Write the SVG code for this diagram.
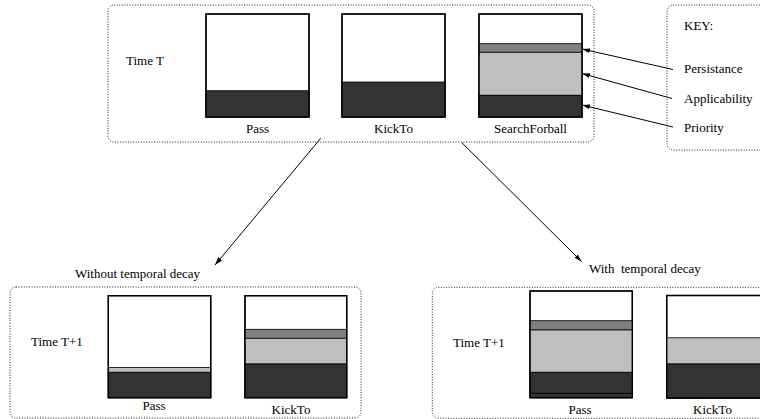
<svg xmlns="http://www.w3.org/2000/svg" width="760" height="419" viewBox="0 0 760 419">
<style>
text{font-family:"Liberation Serif","Times New Roman",serif;font-size:13px;fill:#000}
.frame{fill:none;stroke:#222;stroke-width:1;stroke-dasharray:1 1.6}
.box{fill:#fff;stroke:#000;stroke-width:1.3}
.dk{fill:#333333;stroke:#000;stroke-width:0.8}
.md{fill:#808080;stroke:#000;stroke-width:0.8}
.lt{fill:#bfbfbf;stroke:#000;stroke-width:0.8}
.ln{stroke:#000;stroke-width:1;fill:none}
.mid{text-anchor:middle}
</style>
<defs>
<marker id="ah" viewBox="0 0 10 6" refX="10" refY="3" markerWidth="8" markerHeight="5" markerUnits="userSpaceOnUse" orient="auto">
<path d="M0,0 L10,3 L0,6 z" fill="#000"/>
</marker>
</defs>

<g id="timeT">
<rect class="frame" x="108" y="5" width="486" height="137" rx="6"/>
<text x="126" y="65">Time T</text>
</g>

<g id="passT">
<rect class="box" x="206" y="14" width="103" height="103"/>
<rect class="dk" x="206" y="90.7" width="103" height="26.3"/>
<rect class="box" x="206" y="14" width="103" height="103" fill="none" style="fill:none"/>
<text class="mid" x="257.5" y="133">Pass</text>
</g>

<g id="kicktoT">
<rect class="box" x="342" y="14" width="103" height="103"/>
<rect class="dk" x="342" y="82" width="103" height="35"/>
<rect class="box" x="342" y="14" width="103" height="103" style="fill:none"/>
<text class="mid" x="393.5" y="133">KickTo</text>
</g>

<g id="searchT">
<rect class="box" x="479" y="14" width="103" height="103"/>
<rect class="md" x="479" y="43.7" width="103" height="8.6"/>
<rect class="lt" x="479" y="52.3" width="103" height="43"/>
<rect class="dk" x="479" y="95.3" width="103" height="21.7"/>
<rect class="box" x="479" y="14" width="103" height="103" style="fill:none"/>
<text class="mid" x="530.5" y="133">SearchForball</text>
</g>

<g id="key">
<rect class="frame" x="667" y="5" width="110" height="145" rx="6"/>
<text x="684" y="30">KEY:</text>
<text x="684" y="73">Persistance</text>
<text x="684" y="103">Applicability</text>
<text x="684" y="132">Priority</text>
</g>

<g id="without">
<text x="75" y="278">Without temporal decay</text>
<rect class="frame" x="10" y="287" width="351" height="131" rx="6"/>
<text x="31" y="346">Time T+1</text>
<rect class="box" x="108.3" y="295.7" width="102.4" height="102"/>
<rect class="lt" x="108.3" y="367.5" width="102.4" height="4.8"/>
<rect class="dk" x="108.3" y="372.3" width="102.4" height="25.4"/>
<rect class="box" x="108.3" y="295.7" width="102.4" height="102" style="fill:none"/>
<text class="mid" x="154" y="410">Pass</text>
<rect class="box" x="245" y="295.7" width="101.7" height="102"/>
<rect class="md" x="245" y="329.3" width="101.7" height="9"/>
<rect class="lt" x="245" y="338.3" width="101.7" height="25.7"/>
<rect class="dk" x="245" y="364" width="101.7" height="33.7"/>
<rect class="box" x="245" y="295.7" width="101.7" height="102" style="fill:none"/>
<text class="mid" x="291" y="414">KickTo</text>
</g>

<g id="with">
<text x="589" y="273" xml:space="preserve">With  temporal decay</text>
<rect class="frame" x="432.3" y="287.3" width="340" height="131" rx="6"/>
<text x="453" y="346.5">Time T+1</text>
<rect class="box" x="530" y="291" width="102.3" height="106.7"/>
<rect class="md" x="530" y="320.7" width="102.3" height="9.3"/>
<rect class="lt" x="530" y="330" width="102.3" height="42.3"/>
<rect class="dk" x="530" y="372.3" width="102.3" height="25.4"/>
<line class="ln" x1="530" y1="393.3" x2="632.3" y2="393.3"/>
<rect class="box" x="530" y="291" width="102.3" height="106.7" style="fill:none"/>
<text class="mid" x="580" y="414">Pass</text>
<rect class="box" x="666.7" y="295.5" width="102.3" height="102.5"/>
<rect class="lt" x="666.7" y="337.8" width="102.3" height="26.2"/>
<rect class="dk" x="666.7" y="364" width="102.3" height="34"/>
<rect class="box" x="666.7" y="295.5" width="102.3" height="102.5" style="fill:none"/>
<text class="mid" x="712.5" y="413.5">KickTo</text>
</g>

<g id="connectors">
<line class="ln" x1="673" y1="69.5" x2="582" y2="49" marker-end="url(#ah)"/>
<line class="ln" x1="672" y1="98.5" x2="582" y2="73.5" marker-end="url(#ah)"/>
<line class="ln" x1="673" y1="127" x2="582" y2="105" marker-end="url(#ah)"/>
<line class="ln" x1="320.7" y1="138.3" x2="215" y2="265" marker-end="url(#ah)"/>
<line class="ln" x1="461.7" y1="142.5" x2="581.7" y2="261.7" marker-end="url(#ah)"/>
</g>
</svg>
